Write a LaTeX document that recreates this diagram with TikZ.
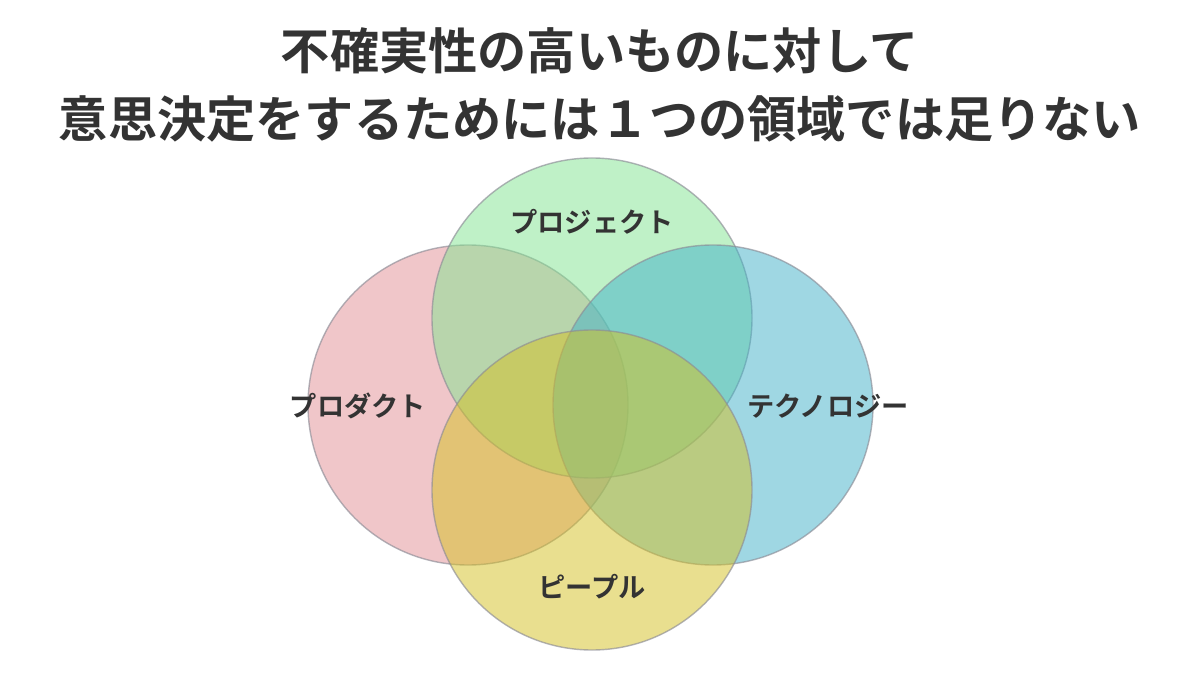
\documentclass[tikz,border=0pt]{standalone}
\usepackage{fontspec}
\setmainfont{Noto Sans CJK JP}[BoldFont={Noto Sans CJK JP Bold}]
\definecolor{txt}{RGB}{51,51,51}
\definecolor{cred}{RGB}{227,143,149}
\definecolor{cgreen}{RGB}{129,229,145}
\definecolor{cblue}{RGB}{65,177,201}
\definecolor{cyellow}{RGB}{213,193,33}
\definecolor{edge}{RGB}{140,140,150}
\tikzset{
  venn/.style={draw=edge, draw opacity=0.65, line width=0.8pt, fill opacity=0.5},
  title/.style={text=txt, font=\fontsize{28pt}{34pt}\selectfont\bfseries, anchor=center},
  lbl/.style={text=txt, font=\fontsize{15.5pt}{18pt}\selectfont\bfseries, anchor=center}
}
\begin{document}
\begin{tikzpicture}[x=0.02cm, y=-0.02cm]
\useasboundingbox (0,0) rectangle (1200,675);
\fill[white] (0,0) rectangle (1200,675);
\node[title] (t1) at (600,51) {不確実性の高いものに対して};
\node[title] (t2) at (600,119) {意思決定をするためには１つの領域では足りない};
\path[venn, fill=cred] (468,405) circle (160);
\path[venn, fill=cgreen] (592,318) circle (160);
\path[venn, fill=cblue] (713,405) circle (160);
\path[venn, fill=cyellow] (592,490) circle (160);
\node[lbl] (proj) at (592,222) {プロジェクト};
\node[lbl] (prod) at (358,406) {プロダクト};
\node[lbl] (tech) at (828,406) {テクノロジー};
\node[lbl] (ppl) at (592,587) {ピープル};
\end{tikzpicture}
\end{document}
